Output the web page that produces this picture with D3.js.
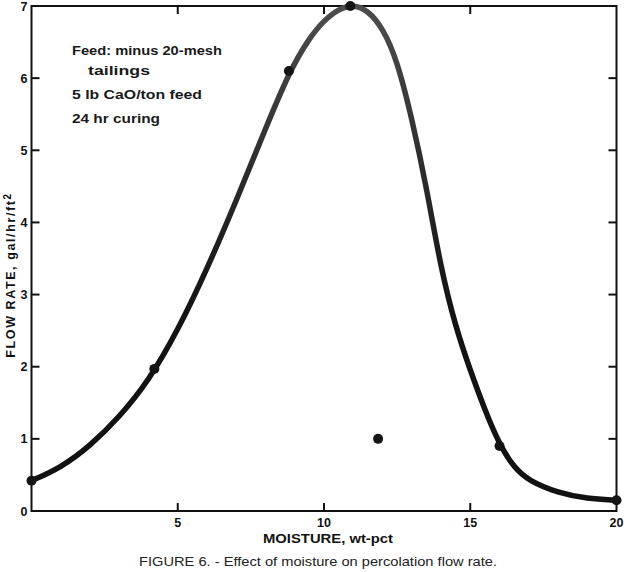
<!DOCTYPE html>
<html><head><meta charset="utf-8">
<script src="https://cdn.jsdelivr.net/npm/d3@7"></script>
<style>body{margin:0;background:#fff}svg{display:block}</style>
</head><body>
<svg id="c" width="627" height="572"></svg>
<script>
// Data
const curveX = [0, 1, 2, 3, 4, 5, 6, 7, 8, 8.8, 9.5, 10, 10.5, 11, 11.5, 12, 12.5, 13, 13.5, 14, 14.5, 15, 15.5, 16, 16.5, 17, 18, 19, 20];
const curveY = [0.42, 0.6, 0.9, 1.3, 1.8, 2.5, 3.35, 4.3, 5.3, 6.08, 6.56, 6.8, 6.96, 7.02, 6.94, 6.7, 6.25, 5.45, 4.5, 3.35, 2.55, 1.95, 1.4, 0.92, 0.6, 0.42, 0.25, 0.17, 0.15];
const pointX = [0, 4.2, 8.8, 10.9, 11.85, 16, 20];
const pointY = [0.42, 1.97, 6.1, 7.0, 1.0, 0.9, 0.15];
const xTicks = [0, 5, 10, 15, 20];
const xTickLabels = ["", "5", "10", "15", "20"];
const yTicks = [0, 1, 2, 3, 4, 5, 6, 7];
const notes = ["Feed: minus 20-mesh", "tailings", "5 lb CaO/ton feed", "24 hr curing"];

const svg = d3.select("#c");
const L = 31.5, R = 616.5, T = 6, B = 511;
const x = d3.scaleLinear().domain([0, 20]).range([L, R]);
const y = d3.scaleLinear().domain([0, 7]).range([B, T]);
const font = "'Liberation Sans', Arial, sans-serif";

// gradient for the curve (grey on top, black below as in the scan)
const defs = svg.append("defs");
const g = defs.append("linearGradient").attr("id", "cg").attr("gradientUnits", "userSpaceOnUse")
  .attr("x1", 0).attr("y1", T).attr("x2", 0).attr("y2", B);
g.append("stop").attr("offset", "0").attr("stop-color", "#4d4d4d");
g.append("stop").attr("offset", "0.35").attr("stop-color", "#2a2a2a");
g.append("stop").attr("offset", "0.6").attr("stop-color", "#141414");
g.append("stop").attr("offset", "1").attr("stop-color", "#111");

// frame
svg.append("rect").attr("x", L).attr("y", T).attr("width", R - L).attr("height", B - T)
  .attr("fill", "none").attr("stroke", "#111").attr("stroke-width", 2);

// ticks (inward)
const tl = 8;
[5, 10, 15].forEach(v => {
  svg.append("line").attr("x1", x(v)).attr("x2", x(v)).attr("y1", B).attr("y2", B - tl).attr("stroke", "#111").attr("stroke-width", 2);
  svg.append("line").attr("x1", x(v)).attr("x2", x(v)).attr("y1", T).attr("y2", T + tl).attr("stroke", "#111").attr("stroke-width", 2);
});
yTicks.filter(v => v > 0 && v < 7).forEach(v => {
  svg.append("line").attr("x1", L).attr("x2", L + tl).attr("y1", y(v)).attr("y2", y(v)).attr("stroke", "#111").attr("stroke-width", 2);
  svg.append("line").attr("x1", R).attr("x2", R - tl).attr("y1", y(v)).attr("y2", y(v)).attr("stroke", "#111").attr("stroke-width", 2);
});

// tick labels
xTicks.forEach((v, i) => {
  if (!xTickLabels[i]) return;
  svg.append("text").attr("x", x(v)).attr("y", B + 16).attr("text-anchor", "middle")
    .attr("font-family", font).attr("font-weight", "bold").attr("font-size", 12.5).attr("fill", "#111")
    .text(xTickLabels[i]);
});
yTicks.forEach(v => {
  svg.append("text").attr("x", L - 4).attr("y", y(v) + 4.5).attr("text-anchor", "end")
    .attr("font-family", font).attr("font-weight", "bold").attr("font-size", 12.5).attr("fill", "#111")
    .text(v);
});

// axis titles
svg.append("text").attr("x", 328).attr("y", 543).attr("text-anchor", "middle")
  .attr("font-family", font).attr("font-weight", "bold").attr("font-size", 13).attr("fill", "#111")
  .attr("textLength", 130).attr("lengthAdjust", "spacingAndGlyphs")
  .text("MOISTURE, wt-pct");
const yl = svg.append("text").attr("transform", "translate(15,275) rotate(-90)").attr("text-anchor", "middle")
  .attr("font-family", font).attr("font-weight", "bold").attr("font-size", 12.5).attr("fill", "#111")
  .attr("letter-spacing", 1.6);
yl.append("tspan").text("FLOW RATE, gal/hr/ft");
yl.append("tspan").attr("dy", -4).attr("font-size", 10).text("2");

// caption
svg.append("text").attr("x", 318).attr("y", 566).attr("text-anchor", "middle")
  .attr("font-family", font).attr("font-size", 13.5).attr("fill", "#222")
  .attr("textLength", 358).attr("lengthAdjust", "spacingAndGlyphs")
  .text("FIGURE 6. - Effect of moisture on percolation flow rate.");

// notes
const notePos = [[72, 55], [88, 75], [72, 99], [72, 123]];
const noteW = [150, 62, 130, 88];
notes.forEach((t, i) => {
  svg.append("text").attr("x", notePos[i][0]).attr("y", notePos[i][1])
    .attr("font-family", font).attr("font-weight", "bold").attr("font-size", 12.5).attr("fill", "#1a1a1a")
    .attr("textLength", noteW[i]).attr("lengthAdjust", "spacingAndGlyphs")
    .text(t);
});

// curve
const pts = curveX.map((v, i) => [v, curveY[i]]);
const line = d3.line().x(d => x(d[0])).y(d => y(d[1])).curve(d3.curveBasis);
svg.append("path").attr("d", line(pts)).attr("fill", "none").attr("stroke", "url(#cg)")
  .attr("stroke-width", 5.5).attr("stroke-linecap", "round");

// points
pointX.forEach((v, i) => {
  svg.append("circle").attr("cx", x(v)).attr("cy", y(pointY[i])).attr("r", 5).attr("fill", "#151515");
});
</script>
</body></html>
